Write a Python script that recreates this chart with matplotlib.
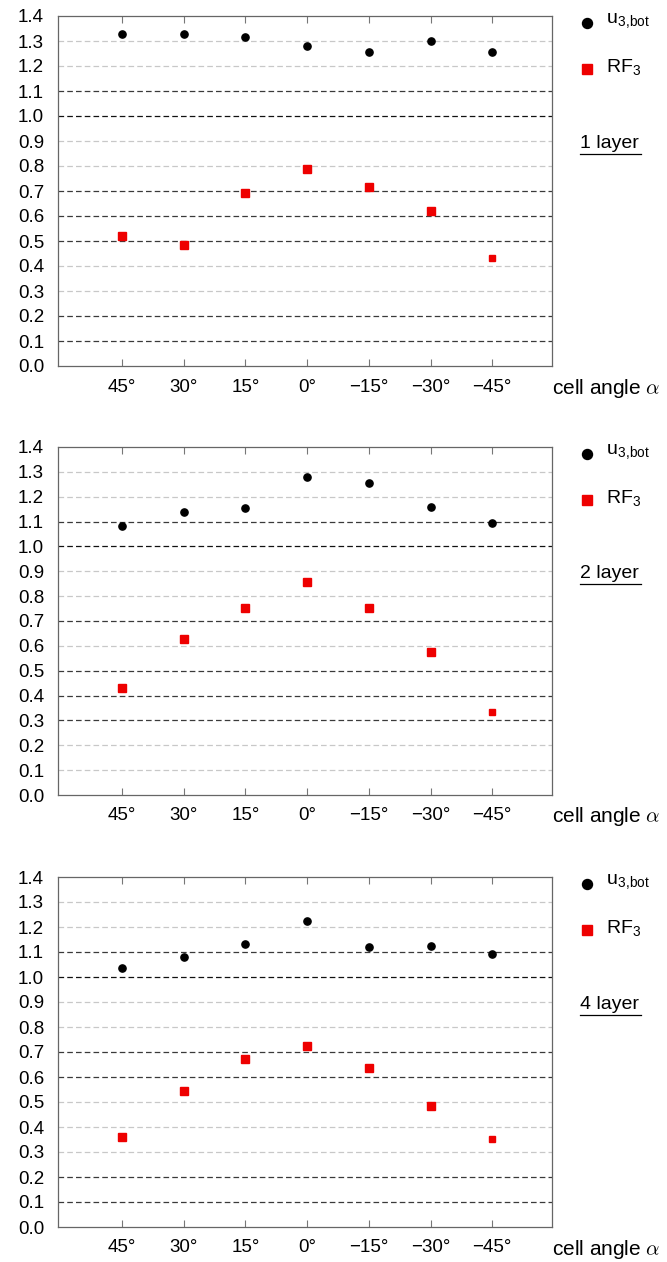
import matplotlib.pyplot as plt
from matplotlib.lines import Line2D

plt.rcParams["font.family"] = ["Liberation Sans", "DejaVu Sans"]
plt.rcParams["mathtext.fontset"] = "cm"

angles = ["45°", "30°", "15°", "0°", "\u221215°", "\u221230°", "\u221245°"]
layers = ["1 layer", "2 layer", "4 layer"]

u3_bot = [
    [1.327, 1.329, 1.316, 1.281, 1.255, 1.299, 1.255],
    [1.082, 1.138, 1.154, 1.280, 1.254, 1.158, 1.095],
    [1.036, 1.079, 1.131, 1.223, 1.120, 1.125, 1.091],
]
rf3 = [
    [0.520, 0.484, 0.691, 0.789, 0.717, 0.620, 0.431],
    [0.429, 0.627, 0.751, 0.858, 0.754, 0.577, 0.333],
    [0.359, 0.543, 0.673, 0.724, 0.637, 0.484, 0.352],
]
yticks = [round(0.1 * i, 1) for i in range(15)]

# shade of each dashed gridline from 0.1 up to 1.3 (d = dark, l = light)
grid_shades = [
    "ddlldddllddll",
    "lldddldllddll",
    "ddllldd llddll".replace(" ", ""),
]
shade_color = {"d": "#3a3a3a", "l": "#c8c8c8"}

W, H = 667, 1262
fig = plt.figure(figsize=(W / 100, H / 100), dpi=100)

boxes = [(16, 366), (447, 795), (877, 1227)]
left, right = 58, 552
fs = 13.5

for k, (top, bot) in enumerate(boxes):
    ax = fig.add_axes([left / W, 1 - bot / H, (right - left) / W, (bot - top) / H])
    x = list(range(len(angles)))

    for j, yv in enumerate(yticks[1:-1]):
        c = shade_color[grid_shades[k][j]]
        if abs(yv - 1.0) < 1e-9:
            c = "#111111"
        ax.axhline(yv, color=c, lw=0.9, ls=(0, (4.5, 2.5)), zorder=1)

    ax.plot(x, u3_bot[k], "o", color="black", ms=5.2, zorder=3)
    sizes = [5.2] * 6 + [4.0]
    for xi, yi, s in zip(x, rf3[k], sizes):
        ax.plot(xi, yi, "s", color="#ee0000", ms=s, mec="#ee0000", zorder=3)

    ax.set_xlim(-1.04, 6.97)
    ax.set_ylim(0, 1.4)
    ax.set_yticks(yticks)
    ax.set_yticklabels([f"{v:.1f}" for v in yticks])
    ax.set_xticks(x)
    ax.set_xticklabels(angles)
    ax.tick_params(axis="y", length=0, pad=10, labelsize=fs)
    ax.tick_params(axis="x", direction="in", top=True, length=5, width=0.8,
                   color="#777777", pad=9, labelsize=fs)
    for sp in ax.spines.values():
        sp.set_color("#666666")
        sp.set_linewidth(0.9)

    # legend beside the plot
    ax.plot([1.071], [0.98], "o", color="black", ms=7.2, transform=ax.transAxes, clip_on=False)
    ax.text(1.109, 0.985, r"u$_{\mathregular{3{,}bot}}$", transform=ax.transAxes,
            fontsize=14, va="center", ha="left")
    ax.plot([1.071], [0.849], "s", color="#ee0000", ms=7.2, transform=ax.transAxes, clip_on=False)
    ax.text(1.109, 0.852, r"RF$_{\mathregular{3}}$", transform=ax.transAxes,
            fontsize=14, va="center", ha="left")

    ax.text(1.057, 0.637, layers[k], transform=ax.transAxes, fontsize=14,
            va="center", ha="left")
    ax.add_line(Line2D([1.057, 1.18], [0.607, 0.607], transform=ax.transAxes,
                       color="black", lw=0.9, clip_on=False))

    ax.text(1.0, -0.063, r"cell angle $\alpha$", transform=ax.transAxes,
            fontsize=15, va="center", ha="left")

fig.savefig("out.png", dpi=100)
